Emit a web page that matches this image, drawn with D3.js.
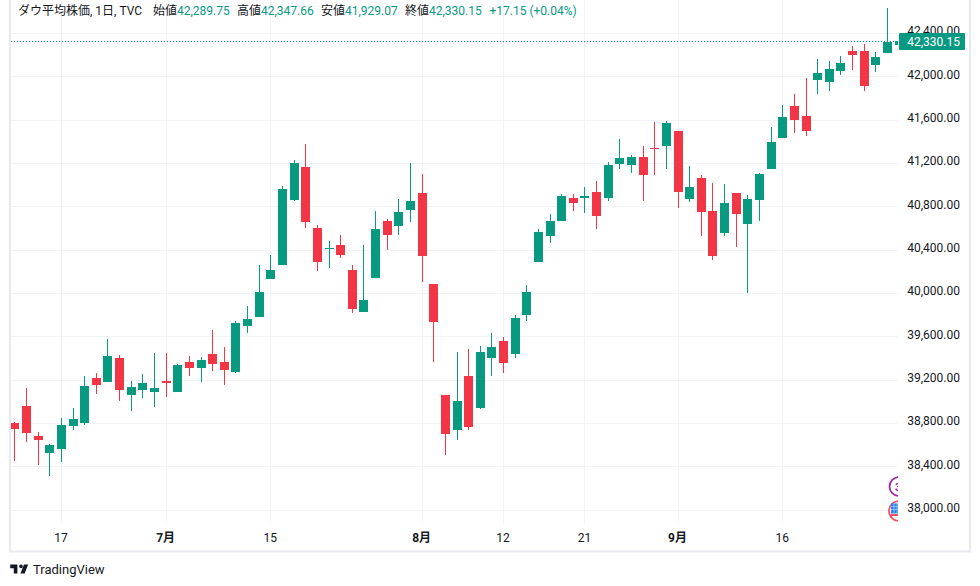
<!DOCTYPE html>
<html lang="ja">
<head>
<meta charset="utf-8">
<title>ダウ平均株価</title>
<script src="https://cdn.jsdelivr.net/npm/d3@7"></script>
<style>
  html, body { margin: 0; padding: 0; background: #fff; }
  svg { display: block; font-family: Roboto, "Noto Sans CJK JP", sans-serif; }
</style>
</head>
<body>
<svg id="chart" width="980" height="586"></svg>
<script>
/* daily candles */
const opens = [38799,38956,38679,38522,38559,38772,38799,39215,39178,39399,39058,39104,39085,39187,39085,39362,39307,39436,39362,39270,
  39695,39778,40129,40258,40858,41162,40599,40410,40442,40212,39824,40138,40664,40618,40766,40922,40082,39058,38735,39233,
  38938,39399,39556,39436,39796,40285,40525,40664,40876,40879,40932,40876,41190,41181,41255,41342,41356,41495,40867,41061,
  40756,40553,40922,40636,40858,41144,41430,41726,41633,41966,41947,42049,42233,42233,42104,42215,42289.75];
const highs = [38805,39122,38716,38605,38845,38938,39233,39261,39575,39427,39187,39252,39445,39445,39344,39418,39408,39658,39501,39741,
  39879,40258,40350,40987,41227,41375,40627,40479,40535,40258,40442,40756,40682,40867,41200,41098,40082,39058,39455,39482,
  39510,39630,39593,39796,40073,40590,40729,40913,40913,40978,41033,41209,41421,41273,41356,41578,41587,41495,41172,41089,
  41015,41006,40922,40904,41107,41532,41735,41836,41984,42159,42141,42187,42280,42298,42224,42630,42347.66];
const lows = [38449,38624,38412,38310,38439,38735,38781,39067,39178,39002,38910,39030,38947,39039,39085,39233,39178,39279,39150,39261,
  39630,39778,40129,40258,40849,40599,40202,40230,40322,39815,39824,40138,40396,40535,40655,40101,39362,38504,38642,38735,
  38928,39233,39261,39399,39741,40285,40461,40664,40756,40738,40590,40849,41144,41107,40849,41089,41144,40784,40839,40525,
  40304,40525,40424,40000,40664,41144,41430,41476,41449,41836,41864,42012,42058,41864,42039,42215,41929.07];
const closes = [38744,38707,38642,38596,38781,38836,39141,39150,39418,39104,39132,39168,39122,39168,39335,39307,39381,39344,39288,39722,
  39759,40009,40212,40959,41200,40655,40285,40419,40350,39852,39935,40590,40535,40747,40849,40341,39732,38698,39002,38762,
  39455,39501,39353,39769,40009,40562,40664,40895,40830,40895,40710,41181,41246,41255,41089,41329,41569,40932,40978,40747,
  40341,40830,40729,40867,41098,41393,41624,41596,41495,42030,42067,42122,42196,41910,42178,42317,42330.15];

const priceTicks = [42400,42000,41600,41200,40800,40400,40000,39600,39200,38800,38400,38000];
const timeTicks = [
  { i: 4,  label: "17",  bold: false },
  { i: 13, label: "7月", bold: true },
  { i: 22, label: "15",  bold: false },
  { i: 35, label: "8月", bold: true },
  { i: 42, label: "12",  bold: false },
  { i: 49, label: "21",  bold: false },
  { i: 57, label: "9月", bold: true },
  { i: 66, label: "16",  bold: false },
];
const lastPrice = 42330.15;

const legendMain = "ダウ平均株価, 1日, TVC";
const legendItems = [
  { name: "始値", value: "42,289.75", x: 153 },
  { name: "高値", value: "42,347.66", x: 237 },
  { name: "安値", value: "41,929.07", x: 321 },
  { name: "終値", value: "42,330.15", x: 405 },
];
const legendChange = "+17.15 (+0.04%)";

const UP = "#089981", DOWN = "#f23645", GRID = "#f2f3f6", TEXT = "#131722", BORDER = "#e9eaf1";
const PLOT = { left: 11, right: 898, top: 0, bottom: 523 };

const svg = d3.select("#chart");

const x = d3.scaleLinear().domain([0, 76]).range([14.4, 898.6]);
const y = d3.scaleLinear().domain([38000, 42000]).range([509.6, 76.3]);
const fmt = d3.format(",.2f");

/* clip so the first and last candles get cut like on the screen */
svg.append("defs").append("clipPath").attr("id", "plot-clip")
  .append("rect")
  .attr("x", PLOT.left).attr("y", PLOT.top)
  .attr("width", PLOT.right - PLOT.left).attr("height", PLOT.bottom - PLOT.top + 20);

/* panel frame */
svg.append("path")
  .attr("d", `M10,0V551.5H970V0`)
  .attr("fill", "none")
  .attr("stroke", BORDER)
  .attr("stroke-width", 2);

/* grid */
const grid = svg.append("g").attr("class", "grid").attr("stroke", GRID).attr("shape-rendering", "crispEdges");
grid.selectAll("line.h").data(priceTicks).join("line")
  .attr("class", "h")
  .attr("x1", PLOT.left).attr("x2", PLOT.right)
  .attr("y1", d => Math.round(y(d)) + 0.5).attr("y2", d => Math.round(y(d)) + 0.5);
grid.selectAll("line.v").data(timeTicks).join("line")
  .attr("class", "v")
  .attr("x1", d => Math.round(x(d.i)) + 0.5).attr("x2", d => Math.round(x(d.i)) + 0.5)
  .attr("y1", PLOT.top).attr("y2", PLOT.bottom);

/* price labels, the tag covers the top one later */
const axis = svg.append("g").attr("class", "price-axis")
  .attr("font-size", 12).attr("fill", TEXT).attr("text-anchor", "end");
axis.selectAll("text").data(priceTicks).join("text")
  .attr("x", 960).attr("y", d => y(d) + 2.5)
  .text(d => fmt(d));

/* time labels */
svg.append("g").attr("class", "time-axis")
  .attr("font-size", 12).attr("fill", TEXT).attr("text-anchor", "middle")
  .selectAll("text").data(timeTicks).join("text")
  .attr("x", d => x(d.i)).attr("y", 542)
  .attr("font-weight", d => d.bold ? 700 : 400)
  .text(d => d.label);

/* last price line */
svg.append("line")
  .attr("x1", PLOT.left).attr("x2", PLOT.right)
  .attr("y1", Math.round(y(lastPrice)) + 0.5).attr("y2", Math.round(y(lastPrice)) + 0.5)
  .attr("stroke", UP).attr("stroke-dasharray", "1 2");

/* candles */
const candles = svg.append("g").attr("clip-path", "url(#plot-clip)")
  .selectAll("g").data(d3.range(opens.length)).join("g")
  .attr("fill", i => closes[i] >= opens[i] ? UP : DOWN)
  .attr("shape-rendering", "crispEdges");

candles.append("rect")
  .attr("x", i => Math.round(x(i)))
  .attr("width", 1)
  .attr("y", i => Math.round(y(highs[i])))
  .attr("height", i => Math.max(1, Math.round(y(lows[i])) - Math.round(y(highs[i]))));

candles.append("rect")
  .attr("x", i => Math.round(x(i)) - 4)
  .attr("width", 9)
  .attr("y", i => Math.round(y(Math.max(opens[i], closes[i]))))
  .attr("height", i => Math.max(1, Math.round(y(Math.min(opens[i], closes[i]))) - Math.round(y(Math.max(opens[i], closes[i])))));

/* event bubbles at the right edge */
const bubbles = svg.append("g").attr("clip-path", "url(#plot-clip)");
bubbles.append("circle")
  .attr("cx", 899).attr("cy", 486.5).attr("r", 9.5)
  .attr("fill", "#fff").attr("stroke", "#9c27b0").attr("stroke-width", 1.8);
bubbles.append("text")
  .attr("x", 895).attr("y", 491).attr("font-size", 11).attr("fill", "#9c27b0").attr("font-weight", 700)
  .text("3");
bubbles.append("circle")
  .attr("cx", 899).attr("cy", 511).attr("r", 10)
  .attr("fill", "#fff").attr("stroke", "#f7525f").attr("stroke-width", 1.8);
bubbles.append("path")
  .attr("d", "M891,503.5H907V513.5H891Z")
  .attr("fill", "#2f80ed");
bubbles.append("path")
  .attr("d", "M891,514H907V516H891Z")
  .attr("fill", "#f7525f");
bubbles.append("path")
  .attr("d", "M891,506.5H907M891,509.5H907M894,503.5V513.5M897,503.5V513.5")
  .attr("stroke", "#a9d0fa").attr("stroke-width", 0.7).attr("fill", "none");

/* last price tag */
const tagY = y(lastPrice);
svg.append("rect")
  .attr("x", 899).attr("y", Math.round(tagY) - 8).attr("width", 66).attr("height", 17).attr("rx", 1)
  .attr("fill", UP);
svg.append("text")
  .attr("x", 960).attr("y", Math.round(tagY) + 5)
  .attr("text-anchor", "end").attr("font-size", 12).attr("fill", "#fff")
  .text(fmt(lastPrice));

/* legend */
const legend = svg.append("g").attr("class", "legend").attr("font-size", 12);
legend.append("text").attr("x", 18).attr("y", 15).attr("fill", TEXT).text(legendMain);
legendItems.forEach(d => {
  legend.append("text").attr("x", d.x).attr("y", 15).attr("fill", TEXT).text(d.name);
  legend.append("text").attr("x", d.x + 24).attr("y", 15).attr("fill", UP).text(d.value);
});
legend.append("text").attr("x", 489.5).attr("y", 15).attr("fill", UP).text(legendChange);

/* TradingView attribution */
const brand = svg.append("g").attr("class", "brand");
brand.append("path")
  .attr("transform", "translate(9,561) scale(0.6)")
  .attr("d", "M14 6H2v6h6v9h6V6Zm12 15h-7l6-15h7l-6 15Zm-6-9a3 3 0 1 0 0-6 3 3 0 0 0 0 6Z")
  .attr("fill", TEXT);
brand.append("text")
  .attr("x", 33).attr("y", 574).attr("font-size", 13).attr("fill", TEXT)
  .text("TradingView");
</script>
</body>
</html>
